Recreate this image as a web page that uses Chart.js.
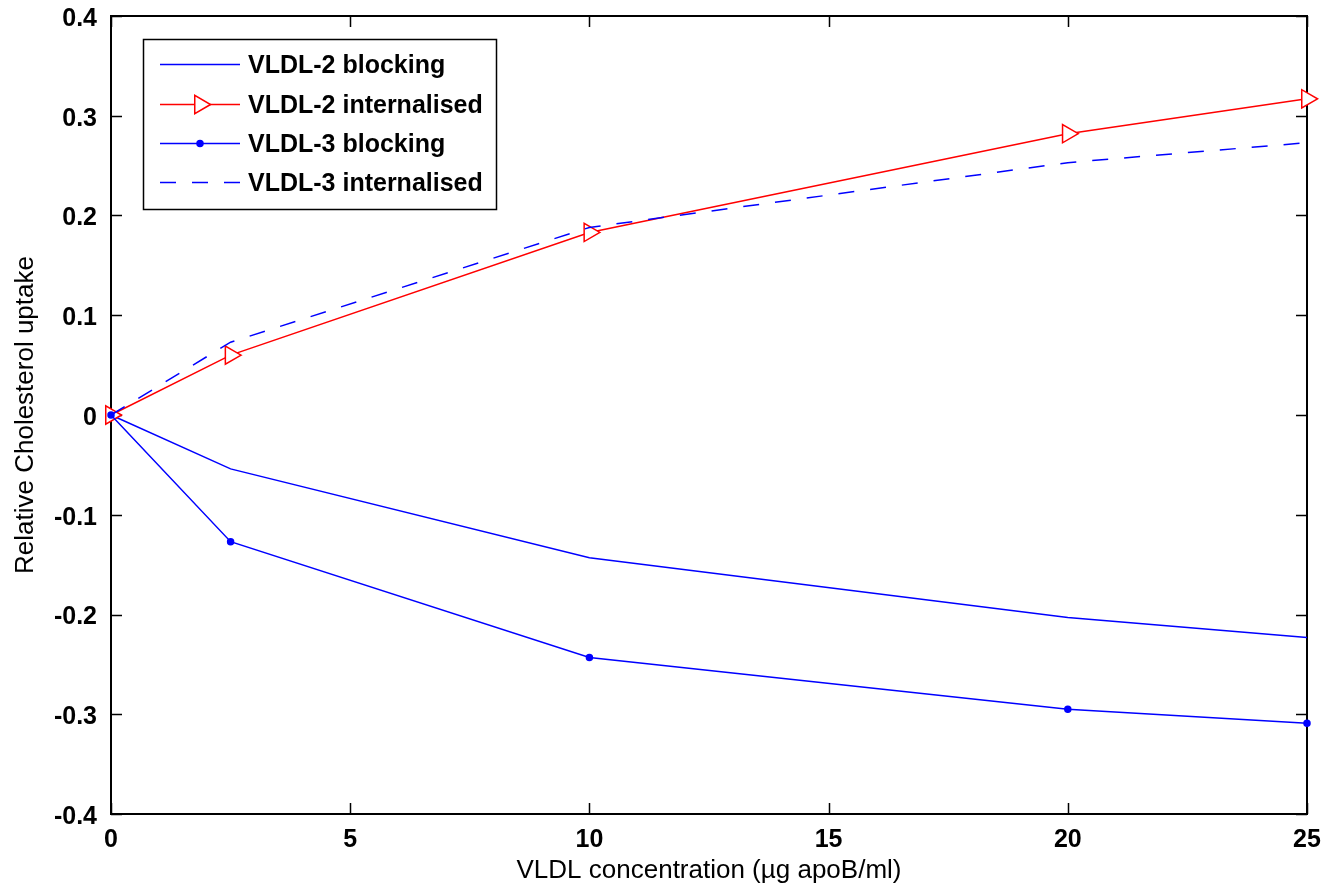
<!DOCTYPE html>
<html><head><meta charset="utf-8">
<script src="https://cdn.jsdelivr.net/npm/chart.js@4.4.0/dist/chart.umd.min.js"></script>
<style>html,body{margin:0;padding:0;background:#fff}#wrap{width:1329px;height:892px}</style>
</head><body><div id="wrap"><canvas id="c" width="1329" height="892"></canvas></div>
<script>
const concentrations = [0, 2.5, 10, 20, 25];
const vldl2Blocking = [0, -0.054, -0.143, -0.203, -0.223];
const vldl2Internalised = [0, 0.060, 0.183, 0.282, 0.317];
const vldl3Blocking = [0, -0.127, -0.243, -0.295, -0.309];
const vldl3Internalised = [0, 0.073, 0.188, 0.253, 0.273];
const seriesNames = ['VLDL-2 blocking', 'VLDL-2 internalised', 'VLDL-3 blocking', 'VLDL-3 internalised'];
const xTickValues = [0, 5, 10, 15, 20, 25];
const xTickLabels = ['0', '5', '10', '15', '20', '25'];
const yTickValues = [-0.4, -0.3, -0.2, -0.1, 0, 0.1, 0.2, 0.3, 0.4];
const yTickLabels = ['-0.4', '-0.3', '-0.2', '-0.1', '0', '0.1', '0.2', '0.3', '0.4'];
const xTitle = 'VLDL concentration (\u00b5g apoB/ml)';
const yTitle = 'Relative Cholesterol uptake';

const FONT = '"Liberation Sans", Arial, sans-serif';
const BLUE = '#0000ff', RED = '#ff0000';

function pts(vals) { return concentrations.map((x, i) => ({x, y: vals[i]})); }
function labelFor(vals, labels, v) {
  const i = vals.findIndex(t => Math.abs(t - v) < 1e-9);
  return i >= 0 ? labels[i] : '';
}

const styles = [
  {color: BLUE, dash: [], point: false, pr: 0, fill: 'rgba(0,0,0,0)'},
  {color: RED, dash: [], point: 'triangle', pr: 10.5, fill: '#ffffff'},
  {color: BLUE, dash: [], point: 'circle', pr: 3, fill: BLUE},
  {color: BLUE, dash: [16, 16], point: false, pr: 0, fill: 'rgba(0,0,0,0)'}
];
const seriesData = [vldl2Blocking, vldl2Internalised, vldl3Blocking, vldl3Internalised];

const datasets = seriesData.map((vals, i) => {
  const s = styles[i];
  return {
    label: seriesNames[i],
    data: pts(vals),
    borderColor: s.color,
    backgroundColor: s.fill,
    borderWidth: 1.5,
    borderDash: s.dash,
    pointStyle: s.point || 'circle',
    pointRadius: s.pr,
    pointRotation: s.point === 'triangle' ? 90 : 0,
    pointBorderColor: s.color,
    pointBackgroundColor: s.fill,
    pointBorderWidth: 1.5,
    showLine: true,
    tension: 0,
    clip: false,
    order: 3 - i
  };
});

const frame = {
  id: 'frame',
  beforeDatasetsDraw(chart) {
    const {ctx, chartArea: a, scales} = chart;
    ctx.save();
    ctx.strokeStyle = '#000';
    ctx.lineWidth = 1.5;
    const tl = 11;
    ctx.beginPath();
    xTickValues.forEach(v => {
      const px = Math.round(scales.x.getPixelForValue(v)) + 0.5;
      ctx.moveTo(px, a.bottom); ctx.lineTo(px, a.bottom - tl);
      ctx.moveTo(px, a.top); ctx.lineTo(px, a.top + tl);
    });
    yTickValues.forEach(v => {
      const py = Math.round(scales.y.getPixelForValue(v)) + 0.5;
      ctx.moveTo(a.left, py); ctx.lineTo(a.left + tl, py);
      ctx.moveTo(a.right, py); ctx.lineTo(a.right - tl, py);
    });
    ctx.stroke();
    ctx.lineWidth = 2;
    ctx.strokeRect(a.left, a.top, a.right - a.left, a.bottom - a.top);
    ctx.restore();
  },
  afterDraw(chart) {
    const ctx = chart.ctx;
    ctx.save();
    const bx = 143.5, by = 39.5, bw = 353, bh = 170;
    ctx.fillStyle = '#fff';
    ctx.fillRect(bx, by, bw, bh);
    ctx.strokeStyle = '#000';
    ctx.lineWidth = 1.5;
    ctx.strokeRect(bx, by, bw, bh);
    const rows = [64.5, 104.5, 143.5, 182.5];
    rows.forEach((y, i) => {
      const s = styles[i];
      ctx.strokeStyle = s.color;
      ctx.lineWidth = 1.5;
      ctx.setLineDash(s.dash);
      ctx.beginPath(); ctx.moveTo(160, y); ctx.lineTo(240, y); ctx.stroke();
      ctx.setLineDash([]);
      if (s.point) {
        ctx.fillStyle = s.fill;
        ctx.strokeStyle = s.color;
        ctx.lineWidth = 1.5;
        Chart.helpers.drawPoint(ctx, {
          pointStyle: s.point, radius: s.pr, rotation: s.point === 'triangle' ? 90 : 0, borderWidth: 1.5
        }, 200, y);
      }
      ctx.fillStyle = '#000';
      ctx.font = 'bold 25px ' + FONT;
      ctx.textBaseline = 'middle';
      ctx.textAlign = 'left';
      ctx.fillText(seriesNames[i], 248, y + 1.5);
    });
    ctx.restore();
  }
};

new Chart(document.getElementById('c'), {
  type: 'scatter',
  data: {datasets},
  options: {
    responsive: false,
    animation: false,
    devicePixelRatio: 1,
    layout: {padding: {top: 16, right: 22, left: 0, bottom: 0}},
    plugins: {legend: {display: false}, tooltip: {enabled: false}},
    scales: {
      x: {
        type: 'linear', min: 0, max: 25,
        afterBuildTicks(s) { s.ticks = xTickValues.map(v => ({value: v})); },
        afterFit(s) { s.height = 78; s.paddingLeft = 0; s.paddingRight = 0; },
        grid: {display: false, drawTicks: false},
        border: {display: false},
        ticks: {
          padding: 11, color: '#000', maxRotation: 0,
          font: {family: FONT, size: 25, weight: 'bold'},
          callback: v => labelFor(xTickValues, xTickLabels, v)
        },
        title: {display: true, text: xTitle, color: '#000', padding: {top: 0, bottom: 6},
          font: {family: FONT, size: 26, weight: 'normal'}}
      },
      y: {
        type: 'linear', min: -0.4, max: 0.4,
        afterBuildTicks(s) { s.ticks = yTickValues.map(v => ({value: v})); },
        afterFit(s) { s.width = 111; s.paddingTop = 0; s.paddingBottom = 0; },
        grid: {display: false, drawTicks: false},
        border: {display: false},
        ticks: {
          padding: 14, color: '#000', labelOffset: 3,
          font: {family: FONT, size: 25, weight: 'bold'},
          callback: v => labelFor(yTickValues, yTickLabels, v)
        },
        title: {display: true, text: yTitle, color: '#000', padding: {top: 10, bottom: 0},
          font: {family: FONT, size: 26, weight: 'normal'}}
      }
    }
  },
  plugins: [frame]
});
</script></body></html>
